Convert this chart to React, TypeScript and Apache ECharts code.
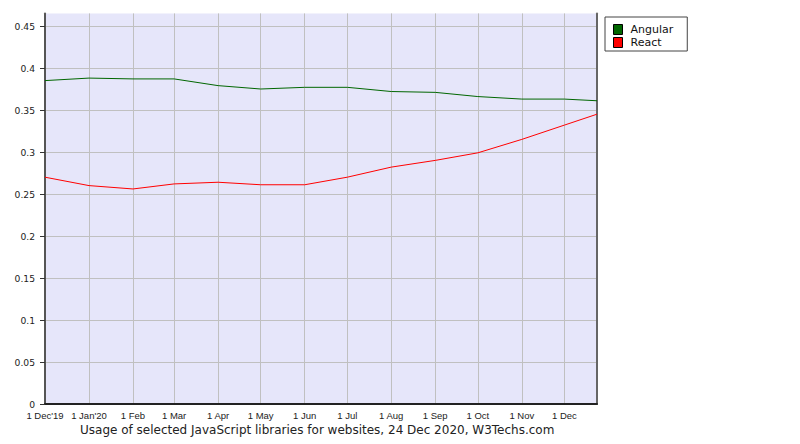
import React, { useEffect, useRef } from "react";
import * as echarts from "echarts";

const dates = [
  "2019-12-01", "2020-01-01", "2020-02-01", "2020-03-01", "2020-04-01",
  "2020-05-01", "2020-06-01", "2020-07-01", "2020-08-01", "2020-09-01",
  "2020-10-01", "2020-11-01", "2020-12-01", "2020-12-24",
];
const angular = [0.385, 0.388, 0.387, 0.387, 0.379, 0.375, 0.377, 0.377, 0.372, 0.371, 0.366, 0.363, 0.363, 0.361];
const react = [0.270, 0.260, 0.256, 0.262, 0.264, 0.261, 0.261, 0.270, 0.282, 0.290, 0.299, 0.315, 0.332, 0.345];

const xTickDates = [
  "2019-12-01", "2020-01-01", "2020-02-01", "2020-03-01", "2020-04-01",
  "2020-05-01", "2020-06-01", "2020-07-01", "2020-08-01", "2020-09-01",
  "2020-10-01", "2020-11-01", "2020-12-01",
];
const xTickLabels = [
  "1 Dec'19", "1 Jan'20", "1 Feb", "1 Mar", "1 Apr", "1 May", "1 Jun",
  "1 Jul", "1 Aug", "1 Sep", "1 Oct", "1 Nov", "1 Dec",
];
const yTicks = [0, 0.05, 0.1, 0.15, 0.2, 0.25, 0.3, 0.35, 0.4, 0.45];

const titleText = "Usage of selected JavaScript libraries for websites, 24 Dec 2020, W3Techs.com";

// days since 1 Dec 2019
function dayNum(s: string): number {
  const [y, m, d] = s.split("-").map(Number);
  return Math.round((Date.UTC(y, m - 1, d) - Date.UTC(2019, 11, 1)) / 86400000);
}

export default function App() {
  const ref = useRef<HTMLDivElement>(null);
  useEffect(() => {
    if (!ref.current) return;
    const chart = echarts.init(ref.current, null, { renderer: "svg" });
    const tickDays = xTickDates.map(dayNum);
    const labelMap: Record<number, string> = {};
    tickDays.forEach((t, i) => (labelMap[t] = xTickLabels[i]));
    chart.setOption({
      animation: false,
      title: {
        text: titleText,
        left: 80,
        top: 424,
        padding: 0,
        textStyle: { fontFamily: "DejaVu Sans", fontSize: 12, fontWeight: "normal", color: "#222" },
      },
      legend: {
        orient: "vertical",
        left: 605,
        top: 17,
        padding: [7, 14, 3, 8],
        itemGap: 2,
        itemWidth: 9,
        itemHeight: 10,
        borderColor: "#444",
        borderWidth: 1,
        icon: "rect",
        textStyle: { fontFamily: "DejaVu Sans", fontSize: 11, lineHeight: 11, color: "#111", padding: [0, 0, 0, 3] },
        data: [
          { name: "Angular", itemStyle: { color: "#006600", borderColor: "#000", borderWidth: 1 } },
          { name: "React", itemStyle: { color: "#ff0000", borderColor: "#000", borderWidth: 1 } },
        ],
      },
      grid: {
        left: 45,
        right: 203,
        top: 13.4,
        bottom: 40,
        show: true,
        backgroundColor: "#e6e6fa",
        borderWidth: 0,
      },
      xAxis: {
        type: "value",
        min: 0,
        max: dayNum(dates[dates.length - 1]),
        axisLine: { show: true, onZero: false, lineStyle: { color: "#222", width: 2 } },
        axisTick: { show: false, customValues: tickDays },
        axisLabel: {
          customValues: tickDays,
          formatter: (v: number) => labelMap[v] ?? "",
          fontFamily: "Liberation Sans",
          fontSize: 9.5,
          color: "#222",
          margin: 6,
          hideOverlap: false,
          showMinLabel: true,
          showMaxLabel: true,
        },
        splitLine: { show: true, lineStyle: { color: "#c0c0c0", width: 1 } },
      },
      yAxis: [
        {
          type: "value",
          min: 0,
          max: 0.465,
          axisLine: { show: true, onZero: false, lineStyle: { color: "#555", width: 2 } },
          axisTick: { show: true, length: 5, customValues: yTicks, lineStyle: { color: "#333" } },
          axisLabel: {
            customValues: yTicks,
            fontFamily: "DejaVu Sans",
            fontSize: 9.2,
            color: "#222",
            margin: 10,
          },
          splitLine: { show: true, lineStyle: { color: "#c0c0c0", width: 1 } },
        },
        {
          type: "value",
          position: "right",
          min: 0,
          max: 0.465,
          axisLine: { show: true, onZero: false, lineStyle: { color: "#666", width: 2 } },
          axisTick: { show: false },
          axisLabel: { show: false },
          splitLine: { show: false },
        },
      ],
      series: [
        {
          name: "Angular",
          type: "line",
          data: dates.map((d, i) => [dayNum(d), angular[i]]),
          showSymbol: false,
          lineStyle: { color: "#006600", width: 1 },
          itemStyle: { color: "#006600" },
        },
        {
          name: "React",
          type: "line",
          data: dates.map((d, i) => [dayNum(d), react[i]]),
          showSymbol: false,
          lineStyle: { color: "#ff0000", width: 1 },
          itemStyle: { color: "#ff0000" },
        },
      ],
    });
    return () => chart.dispose();
  }, []);
  return <div ref={ref} style={{ width: 800, height: 444, position: "absolute", left: 0, top: 0 }} />;
}
